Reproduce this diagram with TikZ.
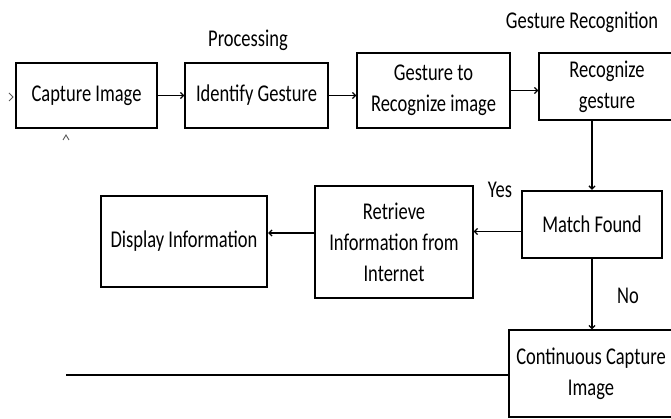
\documentclass[tikz,border=0pt]{standalone}
\usepackage{fontspec}
\setmainfont{Carlito}
\usetikzlibrary{arrows.meta}
\newcommand\tl[1]{\scalebox{1}[1.3]{#1}}
\begin{document}
\begin{tikzpicture}[x=1pt,y=-1pt,
  box/.style={draw, line width=1.3pt, inner sep=0pt, align=center, font=\fontsize{18.5}{31}\selectfont},
  thickbox/.style={box, line width=2.3pt},
  lab/.style={font=\fontsize{18.5}{22}\selectfont, inner sep=0pt},
  conn/.style={line width=1.3pt, -{Straight Barb[length=3pt,width=6pt]}},
  chev/.style={line width=0.9pt, gray!70!black}]
\useasboundingbox (0,0) rectangle (671,419);
\clip (0,0) rectangle (671,419);
\node[box, minimum width=141pt, minimum height=65pt] (cap) at (86.5,95.5) {\tl{Capture Image}};
\node[box, minimum width=143pt, minimum height=65pt] (ident) at (256.5,95.5) {\tl{Identify Gesture}};
\node[box, minimum width=153pt, minimum height=75pt] (gto) at (433.5,90.5) {\tl{Gesture to}\\\tl{Recognize image}};
\node[box, minimum width=136pt, minimum height=67pt] (recog) at (607,86.5) {\tl{Recognize}\\\tl{gesture}};
\node[thickbox, minimum width=140pt, minimum height=67pt] (match) at (592,224.5) {\tl{Match Found}};
\node[box, minimum width=158pt, minimum height=112pt] (retr) at (394,242) {\tl{Retrieve}\\\tl{Information from}\\\tl{Internet}};
\node[thickbox, minimum width=166pt, minimum height=91pt] (disp) at (184,241.5) {\tl{Display Information}};
\node[box, minimum width=164pt, minimum height=87pt] (cont) at (591,373.5) {\tl{Continuous Capture}\\\tl{Image}};
\node[lab] (proc) at (248,40) {\tl{Processing}};
\node[lab] (grec) at (582,22) {\tl{Gesture Recognition}};
\node[lab] (yes) at (500,190) {\tl{Yes}};
\node[lab] (no) at (628,296) {\tl{No}};
\coordinate (lineend) at (66,375);
\coordinate (mw) at ([yshift=-7pt]match.west);
\coordinate (rw) at ([yshift=9pt]retr.west);
\draw[conn] (cap.east) -- (ident.west);
\draw[conn] (ident.east) -- (gto.west |- ident.east);
\draw[conn] (gto.east) -- (recog.west |- gto.east);
\draw[conn] (match.north |- recog.south) -- (match.north);
\draw[conn] (mw) -- (retr.east |- mw);
\draw[conn] (rw) -- (disp.east |- rw);
\draw[conn] (match.south) -- (match.south |- cont.north);
\draw[line width=1.3pt] (cont.west |- lineend) -- (lineend);
\draw[chev] (9,93) -- (13,97) -- (9,101);
\draw[chev] (63,140) -- (66,135) -- (69,140);
\end{tikzpicture}
\end{document}
